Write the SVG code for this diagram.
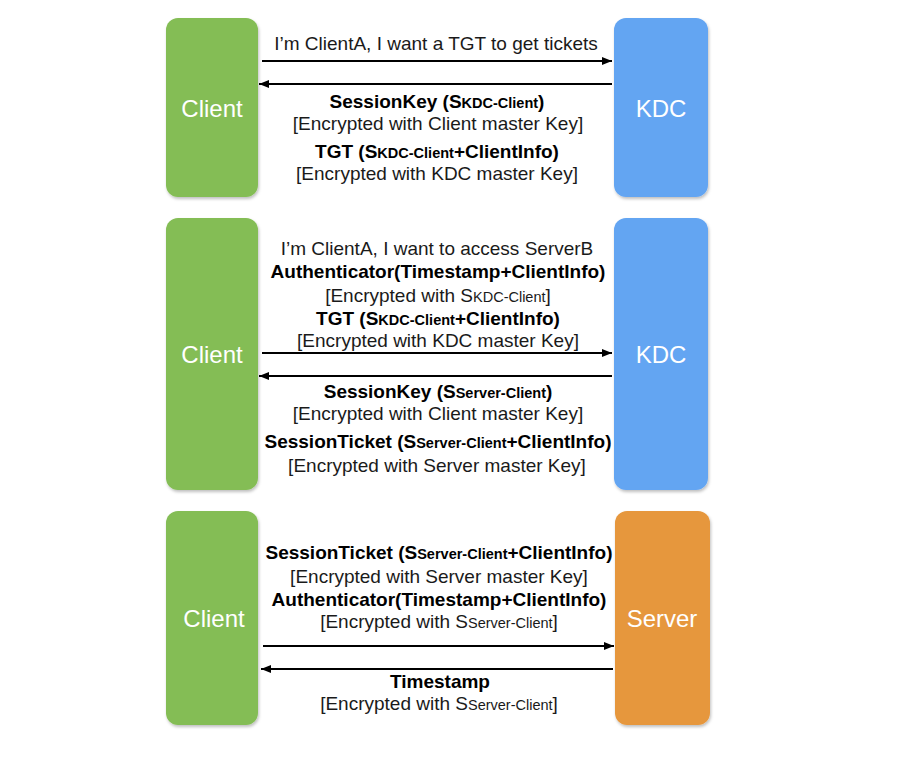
<svg xmlns="http://www.w3.org/2000/svg" width="900" height="767" viewBox="0 0 900 767">
<defs>
<marker id="ah" viewBox="0 0 10 10" refX="10" refY="5" markerWidth="10" markerHeight="10" markerUnits="userSpaceOnUse" orient="auto"><path d="M0,1 L10,5 L0,9 Z" fill="#000"/></marker>
<filter id="sh" x="-10%" y="-10%" width="130%" height="130%"><feDropShadow dx="1" dy="2" stdDeviation="1.5" flood-color="#000" flood-opacity="0.25"/></filter>
</defs>
<style>
.box{filter:url(#sh)}
.lbl{font-family:"Liberation Sans",Arial,sans-serif;font-size:24px;fill:#fff;text-anchor:middle}
.t{font-family:"Liberation Sans",Arial,sans-serif;font-size:19px;fill:#1a1a1a;text-anchor:middle}
.b{font-weight:bold;fill:#000}
.s{font-size:14.5px}
.ln{stroke:#000;stroke-width:2;fill:none;marker-end:url(#ah)}
</style>
<rect width="900" height="767" fill="#fff"/>
<g id="client1"><rect class="box" x="166" y="18" width="92" height="179" rx="12" fill="#84BD55"/><text class="lbl" x="212" y="117">Client</text></g>
<g id="kdc1"><rect class="box" x="614" y="18" width="94" height="179" rx="12" fill="#64A5F2"/><text class="lbl" x="661" y="117">KDC</text></g>
<g id="client2"><rect class="box" x="166" y="218" width="92" height="272" rx="12" fill="#84BD55"/><text class="lbl" x="212" y="363">Client</text></g>
<g id="kdc2"><rect class="box" x="614" y="218" width="94" height="272" rx="12" fill="#64A5F2"/><text class="lbl" x="661" y="363">KDC</text></g>
<g id="client3"><rect class="box" x="166" y="511" width="92" height="214" rx="12" fill="#84BD55"/><text class="lbl" x="214" y="627">Client</text></g>
<g id="server3"><rect class="box" x="615" y="511" width="95" height="214" rx="12" fill="#E6973D"/><text class="lbl" x="662" y="627">Server</text></g>
<g id="connectors">
<line class="ln" x1="262" y1="61" x2="612" y2="61"/>
<line class="ln" x1="612" y1="84" x2="259" y2="84"/>
<line class="ln" x1="262" y1="353" x2="612" y2="353"/>
<line class="ln" x1="612" y1="376" x2="259" y2="376"/>
<line class="ln" x1="263" y1="646" x2="614" y2="646"/>
<line class="ln" x1="613" y1="669" x2="261" y2="669"/>
</g>
<g id="labels">
<text class="t" x="436" y="50">I’m ClientA, I want a TGT to get tickets</text>
<text class="t b" x="437" y="108">SessionKey (S<tspan class="s">KDC-Client</tspan>)</text>
<text class="t" x="438" y="130">[Encrypted with Client master Key]</text>
<text class="t b" x="437" y="158">TGT (S<tspan class="s">KDC-Client</tspan>+ClientInfo)</text>
<text class="t" x="437" y="180">[Encrypted with KDC master Key]</text>

<text class="t" x="437" y="255">I’m ClientA, I want to access ServerB</text>
<text class="t b" x="438" y="278">Authenticator(Timestamp+ClientInfo)</text>
<text class="t" x="438" y="302">[Encrypted with S<tspan class="s">KDC-Client</tspan>]</text>
<text class="t b" x="438" y="325">TGT (S<tspan class="s">KDC-Client</tspan>+ClientInfo)</text>
<text class="t" x="438" y="347">[Encrypted with KDC master Key]</text>
<text class="t b" x="438" y="398">SessionKey (S<tspan class="s">Server-Client</tspan>)</text>
<text class="t" x="438" y="420">[Encrypted with Client master Key]</text>
<text class="t b" x="438" y="448">SessionTicket (S<tspan class="s">Server-Client</tspan>+ClientInfo)</text>
<text class="t" x="437" y="472">[Encrypted with Server master Key]</text>

<text class="t b" x="439" y="559">SessionTicket (S<tspan class="s">Server-Client</tspan>+ClientInfo)</text>
<text class="t" x="439" y="583">[Encrypted with Server master Key]</text>
<text class="t b" x="439" y="606">Authenticator(Timestamp+ClientInfo)</text>
<text class="t" x="439" y="628">[Encrypted with S<tspan class="s">Server-Client</tspan>]</text>
<text class="t b" x="440" y="688">Timestamp</text>
<text class="t" x="439" y="710">[Encrypted with S<tspan class="s">Server-Client</tspan>]</text>
</g>
</svg>
